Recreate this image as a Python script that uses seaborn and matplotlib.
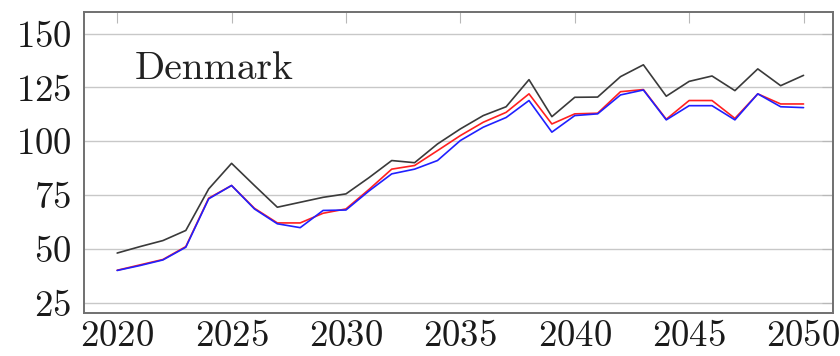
import numpy as np
import pandas as pd
import matplotlib
matplotlib.use("Agg")
import matplotlib.pyplot as plt
import seaborn as sns

# -------------------------------
# DATA
# -------------------------------
years = list(range(2020, 2051))
black_vals = [48, 51, 53.8, 58.5, 77.8, 89.7, 79.4, 69.3, 71.6, 73.9, 75.5,
              83, 91, 90, 98.7, 105.7, 111.9, 116, 128.6, 111.4, 120.4,
              120.5, 130, 135.5, 120.9, 127.8, 130.3, 123.5, 133.6, 125.8, 130.6]
red_vals = [40, 42.5, 45, 51, 73.5, 79.4, 68.8, 62, 62, 66.5, 68.5,
            77.5, 87, 88.7, 95.6, 102.6, 108.8, 113.4, 122, 108, 112.7,
            113, 123, 124, 110.2, 118.9, 118.9, 110.6, 122, 117.3, 117.3]
blue_vals = [39.9, 42.2, 44.8, 50.7, 73.2, 79.4, 68.5, 61.6, 59.8, 67.8, 68,
             76.8, 84.8, 87, 91, 100.3, 106.5, 111, 118.9, 104.2, 111.9,
             112.7, 121.5, 123.8, 109.9, 116.5, 116.5, 109.9, 122, 116, 115.6]
series_names = ["black", "red", "blue"]
series_colors = ["#3a3a3a", "#ff2020", "#2020ff"]

df = pd.DataFrame({
    "year": years * 3,
    "value": black_vals + red_vals + blue_vals,
    "series": ["black"] * len(years) + ["red"] * len(years) + ["blue"] * len(years),
})

# -------------------------------
# PLOT
# -------------------------------
sns.set_style("white")
plt.rcParams["font.family"] = ["cmr10", "DejaVu Serif"]
plt.rcParams["axes.formatter.use_mathtext"] = True
plt.rcParams["mathtext.fontset"] = "cm"

fig, ax = plt.subplots(figsize=(8.4, 3.56), dpi=100)
fig.subplots_adjust(left=0.1, right=0.992, top=0.966, bottom=0.12)

sns.lineplot(data=df, x="year", y="value", hue="series", hue_order=series_names,
             palette=series_colors, linewidth=1.2, legend=False, ax=ax)

ax.set_xlim(2018.55, 2051.3)
ax.set_ylim(20, 160)
ax.set_xticks(range(2020, 2051, 5))
ax.set_yticks(range(25, 151, 25))
ax.yaxis.grid(True, color="#c8c8c8", linewidth=1.0)
ax.set_axisbelow(True)
ax.set_xlabel("")
ax.set_ylabel("")
ax.tick_params(axis="both", labelsize=26.5, direction="in", length=8,
               color="#b8b8b8", top=True, right=True, labelcolor="#1a1a1a")
ax.tick_params(axis="x", pad=5)
ax.tick_params(axis="y", pad=9)
for sp in ax.spines.values():
    sp.set_color("#707070")
    sp.set_linewidth(1.4)

ax.text(0.068, 0.81, "Denmark", transform=ax.transAxes, fontsize=28.5,
        va="center", ha="left", color="#222222")

fig.savefig("out.png", dpi=100)
